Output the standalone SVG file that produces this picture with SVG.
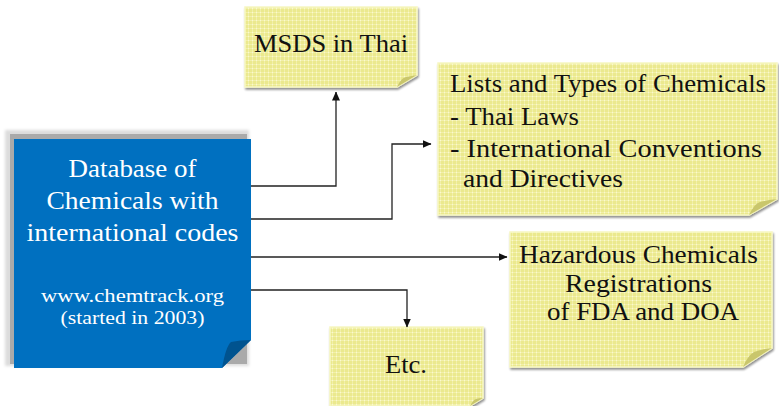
<svg xmlns="http://www.w3.org/2000/svg" width="779" height="406" viewBox="0 0 779 406">
<style>
.t{font-family:"Liberation Serif","Times New Roman",serif;fill:#111;font-size:26px}
.w{font-family:"Liberation Serif","Times New Roman",serif;fill:#fff}
.note{fill:url(#dots);stroke:#f8f7c4;stroke-width:1.5;filter:url(#sh)}
.fold{fill:#c9c66c}
.c{fill:none;stroke:#222;stroke-width:1.3}
</style>
<defs>
<pattern id="dots" width="4" height="4" patternUnits="userSpaceOnUse">
<rect width="4" height="4" fill="#ebe98e"/>
<rect width="4" height="1" fill="#f2f0aa"/>
<rect width="1" height="4" fill="#f2f0aa"/>
<rect width="1" height="1" fill="#faf9cf"/>
</pattern>
<filter id="sh" x="-5%" y="-5%" width="112%" height="115%">
<feGaussianBlur in="SourceAlpha" stdDeviation="1"/>
<feOffset dx="1" dy="2" result="b"/>
<feComponentTransfer><feFuncA type="linear" slope="0.45"/></feComponentTransfer>
<feMerge><feMergeNode/><feMergeNode in="SourceGraphic"/></feMerge>
</filter>
<filter id="blur"><feGaussianBlur stdDeviation="1.5"/></filter>
<marker id="ah" markerWidth="9" markerHeight="8" refX="8.5" refY="4" orient="auto" markerUnits="userSpaceOnUse">
<path d="M0,0 L9,4 L0,8 Z" fill="#111"/>
</marker>
</defs>
<rect width="779" height="406" fill="#fff"/>

<g id="db">
<rect x="5" y="130" width="244" height="236" fill="#dcdcdc" filter="url(#blur)"/>
<rect x="10" y="134" width="237" height="230" fill="#aaaaaa"/>
<path d="M14,139 H251 V340 L222,368 H14 Z" fill="#0070c0"/>
<path d="M222,368 Q226,346 231,342 Q240,340 251,340 Z" fill="#00538f"/>
<text class="w" x="132.5" y="177" text-anchor="middle" font-size="26" textLength="128" lengthAdjust="spacingAndGlyphs">Database of</text>
<text class="w" x="132.5" y="209" text-anchor="middle" font-size="26" textLength="172" lengthAdjust="spacingAndGlyphs">Chemicals with</text>
<text class="w" x="132.5" y="241" text-anchor="middle" font-size="26" textLength="212" lengthAdjust="spacingAndGlyphs">international codes</text>
<text class="w" x="132.5" y="302" text-anchor="middle" font-size="19" textLength="183" lengthAdjust="spacingAndGlyphs">www.chemtrack.org</text>
<text class="w" x="132.5" y="324" text-anchor="middle" font-size="19" textLength="144" lengthAdjust="spacingAndGlyphs">(started in 2003)</text>
</g>

<g id="msds">
<path class="note" d="M245,7 H417 V75 L397,87 H245 Z"/>
<path class="fold" d="M397,87 Q401,78 406,77 Q412,76 417,75 Z"/>
<text class="t" x="254" y="52" textLength="154" lengthAdjust="spacingAndGlyphs">MSDS in Thai</text>
</g>

<g id="lists">
<path class="note" d="M438,63 H777 V199 L749,215 H438 Z"/>
<path class="fold" d="M749,215 Q754,204 760,202 Q768,200 777,199 Z"/>
<text class="t" x="450" y="92" textLength="316" lengthAdjust="spacingAndGlyphs">Lists and Types of Chemicals</text>
<text class="t" x="450" y="125" textLength="129" lengthAdjust="spacingAndGlyphs">- Thai Laws</text>
<text class="t" x="450" y="157" textLength="312" lengthAdjust="spacingAndGlyphs">- International Conventions</text>
<text class="t" x="463" y="187" textLength="160" lengthAdjust="spacingAndGlyphs">and Directives</text>
</g>

<g id="hazard">
<path class="note" d="M510,232 H772 V348 L743,367 H510 Z"/>
<path class="fold" d="M743,367 Q748,355 754,352 Q762,349 772,348 Z"/>
<text class="t" x="519" y="263" textLength="239" lengthAdjust="spacingAndGlyphs">Hazardous Chemicals</text>
<text class="t" x="565" y="292" textLength="147" lengthAdjust="spacingAndGlyphs">Registrations</text>
<text class="t" x="547" y="320" textLength="192" lengthAdjust="spacingAndGlyphs">of FDA and DOA</text>
</g>

<g id="etc">
<path class="note" d="M330,327 H483 V398 L470,406 H330 Z"/>
<path class="fold" d="M470,406 Q473,400 476,399 Q479,398 483,398 Z"/>
<text class="t" x="385" y="373" textLength="42" lengthAdjust="spacingAndGlyphs">Etc.</text>
</g>

<g id="connectors">
<path class="c" d="M251,186 H336 V92" stroke="#444" marker-end="url(#ah)"/>
<path class="c" d="M251,219 H392 V144 H431" marker-end="url(#ah)"/>
<path class="c" d="M251,257 H507" marker-end="url(#ah)"/>
<path class="c" d="M251,290 H407 V327" marker-end="url(#ah)"/>
</g>
</svg>
